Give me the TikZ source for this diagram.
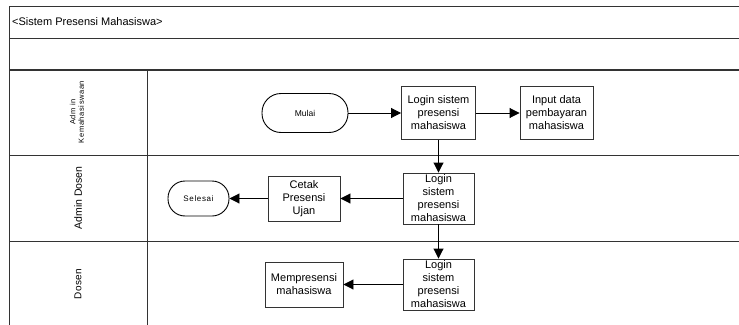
\documentclass[tikz,border=0pt]{standalone}
\usepackage{fontspec}
\setmainfont{Liberation Sans}
\newfontfamily\spacedfont[LetterSpace=8]{Liberation Sans}
\newfontfamily\lightspaced[LetterSpace=5]{Liberation Sans}
\usetikzlibrary{arrows.meta}
\begin{document}
\begin{tikzpicture}[x=1pt,y=-1pt,
  laneline/.style={draw=black!80, line width=0.9pt},
  thickline/.style={draw=black!80, line width=1.6pt},
  procbox/.style={draw=black!80, line width=0.9pt, fill=white, align=center, inner sep=1pt,
    font=\fontsize{11}{13}\selectfont},
  termbox/.style={draw=black, line width=0.9pt, fill=white, align=center, inner sep=1pt},
  flow/.style={draw=black, line width=0.9pt, -{Triangle[length=10pt,width=10pt]}},
  lanelabel/.style={rotate=90, align=center, inner sep=0pt}
]
\useasboundingbox (0,0) rectangle (739,324);
\clip (0,0) rectangle (739,324);
\fill[white] (0,0) rectangle (739,324);
% frame and lanes
\draw[laneline] (9,6) -- (745,6);
\draw[laneline] (9,6) -- (9,330);
\draw[laneline] (9,38) -- (745,38);
\draw[thickline] (9,70) -- (745,70);
\draw[laneline] (9,155) -- (745,155);
\draw[laneline] (9,241) -- (745,241);
\draw[laneline] (147,70) -- (147,330);
% title and lane labels
\node[anchor=west, inner sep=0pt, font=\fontsize{11}{13}\selectfont] (title) at (12,22) {<Sistem Presensi Mahasiswa>};
\node[lanelabel, font=\fontsize{7.5}{8.5}\spacedfont] (lane1) at (77,112) {Adm in\\Kemahasiswaan};
\node[lanelabel, font=\fontsize{10.5}{12}\selectfont] (lane2) at (78,198) {Admin Dosen};
\node[lanelabel, font=\fontsize{10}{12}\lightspaced] (lane3) at (78,284) {Dosen};
% nodes
\node[termbox, minimum width=86pt, minimum height=39pt, rounded corners=19pt,
  font=\fontsize{8.5}{10}\selectfont] (mulai) at (305,113) {Mulai};
\node[procbox, minimum width=74pt, minimum height=53pt] (login1) at (438.5,113) {Login sistem\\presensi\\mahasiswa};
\node[procbox, minimum width=73pt, minimum height=53pt] (input) at (556.5,113) {Input data\\pembayaran\\mahasiswa};
\node[procbox, minimum width=71pt, minimum height=51pt] (login2) at (438.5,198.5) {Login\\sistem\\presensi\\mahasiswa};
\node[procbox, minimum width=72pt, minimum height=45pt] (cetak) at (304,198.5) {Cetak\\Presensi\\Ujan};
\node[termbox, minimum width=61pt, minimum height=35pt, rounded corners=17pt,
  font=\fontsize{8}{9.5}\spacedfont] (selesai) at (198.5,198.5) {Selesai};
\node[procbox, minimum width=71pt, minimum height=51pt] (login3) at (438.5,284.5) {Login\\sistem\\presensi\\mahasiswa};
\node[procbox, minimum width=78pt, minimum height=45pt] (mem) at (304,284.5) {Mempresensi\\mahasiswa};
% connectors
\draw[flow] (mulai) -- (login1);
\draw[flow] (login1) -- (input);
\draw[flow] (login1) -- (login2);
\draw[flow] (login2) -- (cetak);
\draw[flow] (cetak) -- (selesai);
\draw[flow] (login2) -- (login3);
\draw[flow] (login3) -- (mem);
\end{tikzpicture}
\end{document}
